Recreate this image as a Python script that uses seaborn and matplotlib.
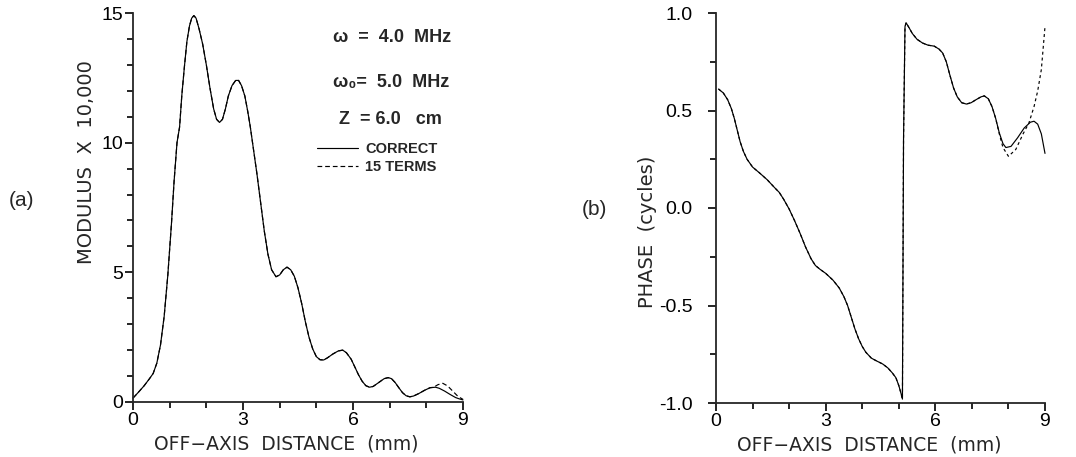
import matplotlib
matplotlib.use("Agg")
import matplotlib.pyplot as plt
from matplotlib.ticker import MultipleLocator, FixedLocator
from matplotlib.lines import Line2D
import seaborn as sns

# ---- (a) modulus vs off-axis distance ----
mod_x = [0.0, 0.15, 0.3, 0.45, 0.55, 0.65, 0.75, 0.85, 0.95, 1.05, 1.12, 1.2, 1.27,
         1.33, 1.4, 1.47, 1.54, 1.6, 1.66, 1.72, 1.8, 1.9, 2.0, 2.1, 2.2, 2.28, 2.36,
         2.44, 2.52, 2.6, 2.7, 2.8, 2.88, 2.96, 3.05, 3.13, 3.2, 3.28, 3.38, 3.48,
         3.58, 3.68, 3.78, 3.9, 4.0, 4.1, 4.2, 4.3, 4.4, 4.5, 4.6, 4.7, 4.8, 4.9,
         5.0, 5.1, 5.2, 5.3, 5.45, 5.6, 5.72, 5.82, 5.95, 6.05, 6.15, 6.25, 6.35,
         6.45, 6.55, 6.7, 6.85, 6.96, 7.05, 7.15, 7.25, 7.35, 7.45, 7.55, 7.65, 7.8,
         7.95, 8.1, 8.25, 8.35, 8.5, 8.65, 8.8, 8.9, 9.0]
mod_correct = [0.15, 0.38, 0.62, 0.9, 1.1, 1.5, 2.2, 3.3, 4.9, 6.9, 8.5, 10.0, 10.6,
               11.8, 12.9, 13.9, 14.5, 14.8, 14.9, 14.8, 14.4, 13.8, 13.0, 12.1, 11.3,
               10.9, 10.78, 10.9, 11.3, 11.8, 12.2, 12.4, 12.4, 12.2, 11.8, 11.2, 10.6,
               9.8, 8.8, 7.7, 6.6, 5.7, 5.1, 4.83, 4.9, 5.1, 5.2, 5.1, 4.85, 4.4, 3.8,
               3.1, 2.5, 2.05, 1.75, 1.63, 1.62, 1.7, 1.85, 1.97, 2.0, 1.9, 1.65, 1.35,
               1.05, 0.8, 0.63, 0.57, 0.6, 0.75, 0.9, 0.94, 0.9, 0.75, 0.55, 0.36, 0.24,
               0.2, 0.23, 0.33, 0.45, 0.55, 0.57, 0.53, 0.42, 0.29, 0.17, 0.12, 0.08]
# 15-term series departs from the exact result beyond ~8 mm
mod_terms_tail_x = [8.2, 8.32, 8.45, 8.58, 8.72, 8.86, 9.0]
mod_terms_tail_y = [0.57, 0.67, 0.72, 0.62, 0.42, 0.22, 0.1]

# ---- (b) phase vs off-axis distance ----
ph_x = [0.07, 0.2, 0.32, 0.42, 0.5, 0.58, 0.66, 0.75, 0.85, 1.0, 1.19, 1.4, 1.6, 1.73,
        1.85, 2.0, 2.15, 2.3, 2.45, 2.6, 2.72, 2.85, 3.0, 3.2, 3.37, 3.5, 3.6, 3.7,
        3.8, 3.9, 4.0, 4.1, 4.25, 4.4, 4.56, 4.7, 4.82, 4.92, 5.0, 5.06, 5.1, 5.13,
        5.17, 5.2, 5.28, 5.37, 5.5, 5.65, 5.8, 5.97, 6.1, 6.2, 6.3, 6.4, 6.5, 6.6,
        6.72, 6.85, 6.98, 7.11, 7.25, 7.34, 7.45, 7.55, 7.65, 7.75, 7.85, 7.93,
        8.07, 8.25, 8.43, 8.6, 8.7, 8.8, 8.9, 9.0]
ph_correct = [0.61, 0.59, 0.555, 0.51, 0.46, 0.4, 0.34, 0.29, 0.25, 0.21, 0.18, 0.145,
              0.105, 0.08, 0.045, -0.005, -0.065, -0.13, -0.2, -0.26, -0.295, -0.315,
              -0.335, -0.37, -0.41, -0.455, -0.5, -0.56, -0.62, -0.67, -0.71, -0.74,
              -0.77, -0.785, -0.8, -0.82, -0.845, -0.87, -0.91, -0.95, -0.98, 0.35,
              0.93, 0.95, 0.925, 0.895, 0.865, 0.846, 0.835, 0.83, 0.815, 0.795, 0.75,
              0.68, 0.615, 0.57, 0.54, 0.533, 0.54, 0.555, 0.57, 0.575, 0.56, 0.52,
              0.46, 0.385, 0.33, 0.31, 0.316, 0.36, 0.41, 0.44, 0.445, 0.43, 0.38, 0.28]
ph_terms_tail_x = [7.75, 7.85, 8.0, 8.2, 8.4, 8.56, 8.7, 8.8, 8.9, 9.0]
ph_terms_tail_y = [0.38, 0.31, 0.265, 0.3, 0.38, 0.436, 0.52, 0.6, 0.71, 0.93]

legend_labels = ["CORRECT", "15 TERMS"]
x_ticks = [0, 3, 6, 9]


def build_terms(x, y, tail_x, tail_y):
    n = sum(1 for v in x if v < tail_x[0])
    return x[:n] + tail_x, y[:n] + tail_y


mod_terms_x, mod_terms = build_terms(mod_x, mod_correct, mod_terms_tail_x, mod_terms_tail_y)
ph_terms_x, ph_terms = build_terms(ph_x, ph_correct, ph_terms_tail_x, ph_terms_tail_y)

sns.set_style("ticks")
plt.rcParams["font.family"] = ["Liberation Sans", "DejaVu Sans"]

W, H = 1076, 457
fig = plt.figure(figsize=(W / 100, H / 100), dpi=100)


def px_axes(x0, x1, ytop, ybot):
    return fig.add_axes([x0 / W, 1 - ybot / H, (x1 - x0) / W, (ybot - ytop) / H])


ax1 = px_axes(133, 463, 13, 402)
ax2 = px_axes(716, 1045, 13, 403)

line_kw = dict(color="black", linewidth=0.85, estimator=None, sort=False)
dash_a = (0, (4, 2.5))
dash_b = (0, (2.5, 2.5))

sns.lineplot(x=mod_x, y=mod_correct, ax=ax1, **line_kw)
sns.lineplot(x=mod_terms_x, y=mod_terms, ax=ax1, linestyle=dash_a, **line_kw)
sns.lineplot(x=ph_x, y=ph_correct, ax=ax2, **line_kw)
sns.lineplot(x=ph_terms_x, y=ph_terms, ax=ax2, linestyle=dash_b, **line_kw)

for ax in (ax1, ax2):
    for ln in ax.lines:
        ln.set_clip_on(False)
        ln.set_solid_joinstyle("round")
    sns.despine(ax=ax)
    ax.spines["left"].set_linewidth(1.3)
    ax.spines["bottom"].set_linewidth(1.3)
    ax.set_xlim(0, 9)
    ax.xaxis.set_major_locator(FixedLocator(x_ticks))
    ax.xaxis.set_minor_locator(MultipleLocator(1))
    ax.tick_params(which="major", length=6, width=1.2, labelsize=14, pad=1,
                   color="black", labelcolor="black")
    ax.tick_params(which="minor", length=4, width=1.2, color="black")
    ax.set_facecolor("white")

ax1.set_ylim(0, 15)
ax1.yaxis.set_major_locator(FixedLocator([0, 5, 10, 15]))
ax1.yaxis.set_minor_locator(MultipleLocator(1))
ax1.set_yticklabels(["0", "5", "10", "15"])

ax2.set_ylim(-1, 1)
ax2.yaxis.set_major_locator(FixedLocator([-1.0, -0.5, 0.0, 0.5, 1.0]))
ax2.yaxis.set_minor_locator(MultipleLocator(0.25))
ax2.set_yticklabels(["-1.0", "-0.5", "0.0", "0.5", "1.0"])
ax2.tick_params(axis="y", which="major", pad=11)

xlab_font = dict(family=["DejaVu Sans"], fontsize=13.5)
ylab_font = dict(family=["DejaVu Sans"], fontsize=14)
ax1.set_xlabel("OFF\u2212AXIS  DISTANCE  (mm)", **xlab_font)
ax2.set_xlabel("OFF\u2212AXIS  DISTANCE  (mm)", **xlab_font)
ax1.set_ylabel("MODULUS  X  10,000", **ylab_font)
ax2.set_ylabel("PHASE  (cycles)", **ylab_font)
ax1.xaxis.set_label_coords(0.464, -0.083)
ax2.xaxis.set_label_coords(0.465, -0.083)
ax1.yaxis.set_label_coords(-0.112, 0.617)
ax2.yaxis.set_label_coords(-0.178, 0.44)

fig.text(22 / W, 1 - 200 / H, "(a)", fontsize=15, ha="center", va="center")
fig.text(594 / W, 1 - 210 / H, "(b)", fontsize=15, ha="center", va="center")

info_kw = dict(fontsize=13, fontweight="bold", ha="left", va="center",
               family=["Liberation Sans", "DejaVu Sans"])
fig.text(333 / W, 1 - 37 / H, "\u03c9  =  4.0  MHz", **info_kw)
fig.text(333 / W, 1 - 82 / H, "\u03c9\u2080=  5.0  MHz", **info_kw)
fig.text(339 / W, 1 - 119 / H, "Z  = 6.0   cm", **info_kw)

handles = [Line2D([], [], color="black", lw=0.85),
           Line2D([], [], color="black", lw=0.85, linestyle=dash_a)]
ax1.legend(handles, legend_labels, loc="upper left",
           bbox_to_anchor=(317 / W, 1 - 142 / H), bbox_transform=fig.transFigure,
           frameon=False, handlelength=2.8, handletextpad=0.5, borderpad=0,
           borderaxespad=0, labelspacing=0.3,
           prop=dict(family="Liberation Sans", weight="bold", size=10.5))

fig.savefig("out.png", dpi=100, facecolor="white")
